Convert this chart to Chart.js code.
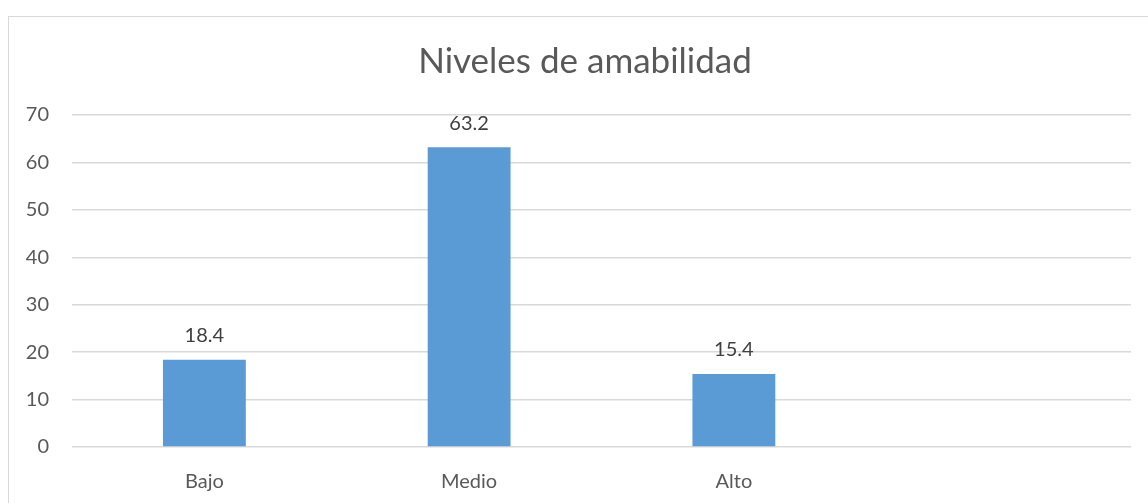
<!DOCTYPE html>
<html>
<head>
<meta charset="utf-8">
<script src="https://cdn.jsdelivr.net/npm/chart.js@4/dist/chart.umd.min.js"></script>
<style>
  html, body { margin: 0; padding: 0; background: #fff; overflow: hidden; }
  #wrap { position: relative; width: 1148px; height: 503px; }
  #frame { position: absolute; left: 8px; top: 16px; width: 1200px; height: 600px; border: 1px solid #d9d9d9; box-sizing: border-box; }
  canvas { position: absolute; left: 0; top: 0; }
</style>
</head>
<body>
<div id="wrap">
  <div id="frame"></div>
  <canvas id="chart1" width="1148" height="503"></canvas>
</div>
<script>
const categories = ["Bajo", "Medio", "Alto", ""];
const values = [18.4, 63.2, 15.4, null];
const yTicks = [0, 10, 20, 30, 40, 50, 60, 70];
const chartTitle = "Niveles de amabilidad";

// value labels above bars + title centred on the outer frame (like Excel)
const extras = {
  id: "extras",
  afterDatasetsDraw(chart) {
    const c = chart.ctx;
    const meta = chart.getDatasetMeta(0);
    c.save();
    c.font = "20px Lato";
    c.fillStyle = "#404040";
    c.textAlign = "center";
    c.textBaseline = "middle";
    meta.data.forEach((bar, i) => {
      if (values[i] == null) return;
      c.fillText(values[i].toFixed(1), bar.x, bar.y - 24);
    });
    c.font = "35px Lato";
    c.fillStyle = "#595959";
    c.fillText(chartTitle, 585, 62);
    c.restore();
  },
};

const ctx = document.getElementById("chart1");
const myChart = new Chart(ctx, {
  type: "bar",
  data: {
    labels: categories,
    datasets: [
      {
        data: values,
        backgroundColor: "#5b9bd5",
        categoryPercentage: 1,
        barPercentage: 0.313,
      },
    ],
  },
  options: {
    responsive: false,
    animation: false,
    layout: { padding: { left: 0, right: 17, top: 115, bottom: 0 } },
    plugins: {
      legend: { display: false },
      tooltip: { enabled: false },
      title: { display: false },
    },
    scales: {
      x: {
        grid: { display: false },
        border: { display: false },
        ticks: { color: "#595959", font: { family: "Lato", size: 20 }, padding: 15 },
        afterFit(axis) { axis.height = 56; },
      },
      y: {
        min: 0,
        max: 70,
        afterBuildTicks(axis) { axis.ticks = yTicks.map(v => ({ value: v })); },
        grid: { color: "#d9d9d9", lineWidth: 1.5, drawTicks: false },
        border: { display: false },
        ticks: { color: "#595959", font: { family: "Lato", size: 20 }, padding: 23 },
        afterFit(axis) { axis.width = 72; },
      },
    },
  },
  plugins: [extras],
});
</script>
</body>
</html>
